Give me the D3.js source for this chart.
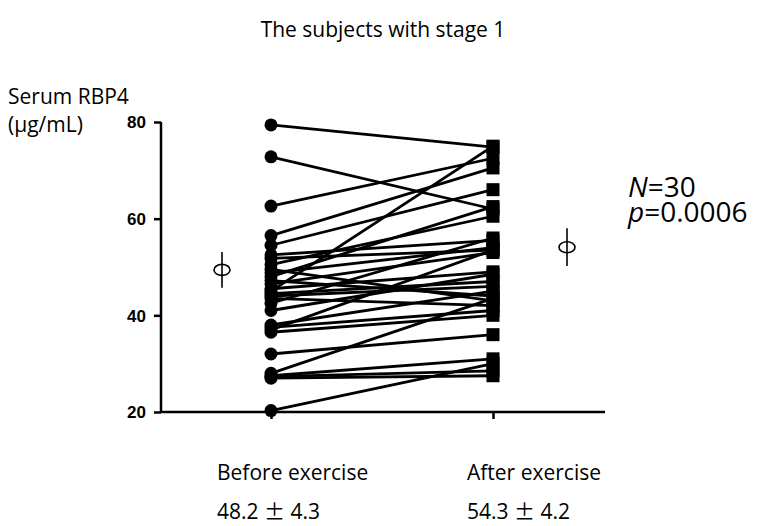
<!DOCTYPE html>
<html>
<head>
<meta charset="utf-8">
<script src="https://cdn.jsdelivr.net/npm/d3@7"></script>
<style>
  body { margin: 0; background: #fff; }
  text { fill: #000; }
</style>
</head>
<body>
<div id="chart"></div>
<script>
// Paired values per subject
var groups = ["Before exercise", "After exercise"];
var before = [79.4, 72.8, 62.6, 56.5, 54.5, 52.5, 51.8, 50.5, 49.5, 48.8, 48.0, 47.2, 46.5, 45.5, 45.0,
              44.0, 43.5, 42.5, 41.0, 38.0, 37.5, 37.0, 36.5, 32.0, 28.0, 27.5, 27.3, 27.0, 20.3, 44.5];
var after  = [74.8, 62.0, 72.5, 70.5, 66.0, 55.5, 53.5, 60.5, 43.0, 54.0, 62.5, 44.0, 53.0, 49.0, 75.0,
              46.0, 42.0, 56.0, 48.5, 45.0, 41.0, 53.5, 40.0, 36.0, 43.5, 31.0, 28.5, 27.5, 30.0, 47.0];
var groupMean = [49.4, 54.1];
var groupErr = [3.7, 3.9];
var summaryMean = ["48.2", "54.3"];
var summaryErr = ["4.3", "4.2"];
var yTicks = [20, 40, 60, 80];

const W = 759, H = 526;
var svg = d3.select("#chart").append("svg")
  .attr("width", W).attr("height", H)
  .style("font-family", "'Open Sans', Lato, sans-serif");

const yScale = d3.scaleLinear().domain([20, 80]).range([412, 122]);
const xScale = d3.scalePoint().domain(groups).range([271, 493]);
const axisX0 = 161, axisX1 = 605;

// title and labels
svg.append("text").attr("x", 383).attr("y", 37).attr("text-anchor", "middle")
  .style("font-size", "21px").text("The subjects with stage 1");
svg.append("text").attr("x", 8).attr("y", 104).style("font-size", "21px").text("Serum RBP4");
svg.append("text").attr("x", 8).attr("y", 132).style("font-size", "21px").text("(\u03bcg/mL)");

// y axis
var yAxis = svg.append("g").attr("transform", "translate(" + axisX0 + ",0)")
  .call(d3.axisLeft(yScale).tickValues(yTicks).tickSize(7).tickPadding(8).tickFormat(d3.format("d")));
yAxis.select(".domain").attr("stroke-width", 2.5).attr("d", "M0," + yScale(80) + "V" + yScale(20));
yAxis.selectAll(".tick line").attr("stroke-width", 2.5);
yAxis.selectAll(".tick text").style("font-family", "'Liberation Sans', Arial, sans-serif")
  .style("font-weight", "bold").style("font-size", "17px").attr("dy", "0.35em");

// x axis
var xAxis = svg.append("g").attr("transform", "translate(0," + yScale(20) + ")")
  .call(d3.axisBottom(xScale).tickSize(7).tickFormat(""));
xAxis.select(".domain").attr("stroke-width", 2.5).attr("d", "M" + axisX0 + ",0H" + axisX1);
xAxis.selectAll(".tick line").attr("stroke-width", 2.5);

// paired lines
var pairs = d3.range(before.length).map(function(i) { return [before[i], after[i]]; });
svg.append("g").selectAll("line").data(pairs).join("line")
  .attr("x1", xScale(groups[0])).attr("x2", xScale(groups[1]))
  .attr("y1", function(d) { return yScale(d[0]); })
  .attr("y2", function(d) { return yScale(d[1]); })
  .attr("stroke", "#000").attr("stroke-width", 2.8);

// before circles
svg.append("g").selectAll("circle").data(before).join("circle")
  .attr("cx", xScale(groups[0])).attr("cy", function(d) { return yScale(d); })
  .attr("r", 6.5).attr("fill", "#000");

// after squares
const sq = 13;
svg.append("g").selectAll("rect").data(after).join("rect")
  .attr("x", xScale(groups[1]) - sq / 2).attr("y", function(d) { return yScale(d) - sq / 2; })
  .attr("width", sq).attr("height", sq).attr("fill", "#000");

// mean markers (phi-like)
var markerX = [222, 567];
groupMean.forEach(function(m, i) {
  var g = svg.append("g");
  g.append("line").attr("x1", markerX[i]).attr("x2", markerX[i])
    .attr("y1", yScale(m + groupErr[i])).attr("y2", yScale(m - groupErr[i]))
    .attr("stroke", "#000").attr("stroke-width", 1.6);
  g.append("ellipse").attr("cx", markerX[i]).attr("cy", yScale(m))
    .attr("rx", 8).attr("ry", 5.5).attr("fill", "none").attr("stroke", "#000").attr("stroke-width", 1.6);
});

// group labels and summaries
var labelX = [217, 467];
groups.forEach(function(g, i) {
  svg.append("text").attr("x", labelX[i]).attr("y", 480).style("font-size", "21px").text(g);
  var s = svg.append("text").attr("x", labelX[i]).attr("y", 519).style("font-size", "21px");
  s.append("tspan").text(summaryMean[i] + " ");
  s.append("tspan").style("font-family", "'Noto Sans CJK JP', sans-serif").text("\u00b1");
  s.append("tspan").text(" " + summaryErr[i]);
});

// stats
var n = svg.append("text").attr("x", 628).attr("y", 197).style("font-size", "28px");
n.append("tspan").style("font-style", "italic").text("N");
n.append("tspan").text("=30");
var p = svg.append("text").attr("x", 628).attr("y", 222).style("font-size", "28px");
p.append("tspan").style("font-style", "italic").text("p");
p.append("tspan").text("=0.0006");
</script>
</body>
</html>
